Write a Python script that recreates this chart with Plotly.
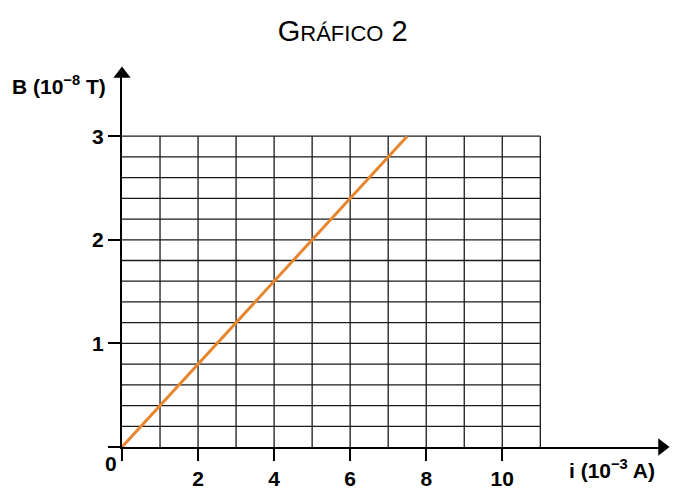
import plotly.graph_objects as go

# data
corrente = [0, 7.5]      # i (10^-3 A)
campo = [0, 3.0]         # B (10^-8 T)

x_ticks = [0, 2, 4, 6, 8, 10]
x_ticktext = ["", "2", "4", "6", "8", "10"]
y_ticks = [0, 1, 2, 3]
y_ticktext = ["", "1", "2", "3"]

grid_x = [1, 2, 3, 4, 5, 6, 7, 8, 9, 10, 11]
grid_y = [0.2, 0.4, 0.6, 0.8, 1.0, 1.2, 1.4, 1.6, 1.8, 2.0,
          2.2, 2.4, 2.6, 2.8, 3.0]

x_max = 14.2
y_max = 3.6
fnt = "Arial, Liberation Sans, sans-serif"

fig = go.Figure()

#%% grid as one line trace
gx, gy = [], []
for v in grid_x:
    gx += [v, v, None]
    gy += [0, grid_y[-1], None]
for h in grid_y:
    gx += [0, grid_x[-1], None]
    gy += [h, h, None]
fig.add_trace(go.Scatter(x=gx, y=gy, mode="lines",
                         line=dict(color="#1a1a1a", width=1.3),
                         hoverinfo="skip", showlegend=False))

#%% the line
fig.add_trace(go.Scatter(x=corrente, y=campo, mode="lines",
                         line=dict(color="#E8862F", width=3),
                         showlegend=False))

#%% arrow heads on the axes
fig.add_trace(go.Scatter(x=[x_max], y=[0], mode="markers",
                         marker=dict(symbol="triangle-right", size=15, color="black"),
                         cliponaxis=False, hoverinfo="skip", showlegend=False))
fig.add_trace(go.Scatter(x=[0], y=[y_max], mode="markers",
                         marker=dict(symbol="triangle-up", size=15, color="black"),
                         cliponaxis=False, hoverinfo="skip", showlegend=False))

# page body has an 8px margin, so pull the plot up-left by 8px
fig.update_layout(
    width=690, height=503,
    margin=dict(l=114, r=36, t=66, b=64),
    plot_bgcolor="white", paper_bgcolor="white",
    font=dict(family=fnt, color="black", size=21),
    title=dict(text="G<span style='font-size:22px'>RÁFICO</span> 2",
               x=0.485, xanchor="center", y=0.954, yanchor="middle",
               font=dict(size=29, family=fnt)),
    xaxis=dict(range=[0, x_max], showgrid=False, zeroline=False,
               showline=True, linecolor="black", linewidth=2,
               ticks="outside", ticklen=12, tickwidth=2, tickcolor="black",
               tickvals=x_ticks, ticktext=x_ticktext,
               tickfont=dict(size=21, family=fnt, weight="bold")),
    yaxis=dict(range=[0, y_max], showgrid=False, zeroline=False,
               showline=True, linecolor="black", linewidth=2,
               ticks="outside", ticklen=12, tickwidth=2, tickcolor="black",
               tickvals=y_ticks, ticktext=y_ticktext,
               tickfont=dict(size=21, family=fnt, weight="bold")),
)

fig.add_annotation(text="<b>0</b>", x=0, y=0, xref="x", yref="y",
                   xshift=-11, yshift=-16, showarrow=False,
                   font=dict(size=21, family=fnt))
fig.add_annotation(text="<b>B (10<sup>−8</sup> T)</b>", xref="paper", yref="paper",
                   x=-0.026, y=0.97, xanchor="right", yanchor="middle",
                   showarrow=False, font=dict(size=21, family=fnt))
fig.add_annotation(text="<b>i (10<sup>−3</sup> A)</b>", xref="paper", yref="paper",
                   x=0.99, y=-0.06, xanchor="right", yanchor="middle",
                   showarrow=False, font=dict(size=21, family=fnt))

fig.write_html("out.html")
